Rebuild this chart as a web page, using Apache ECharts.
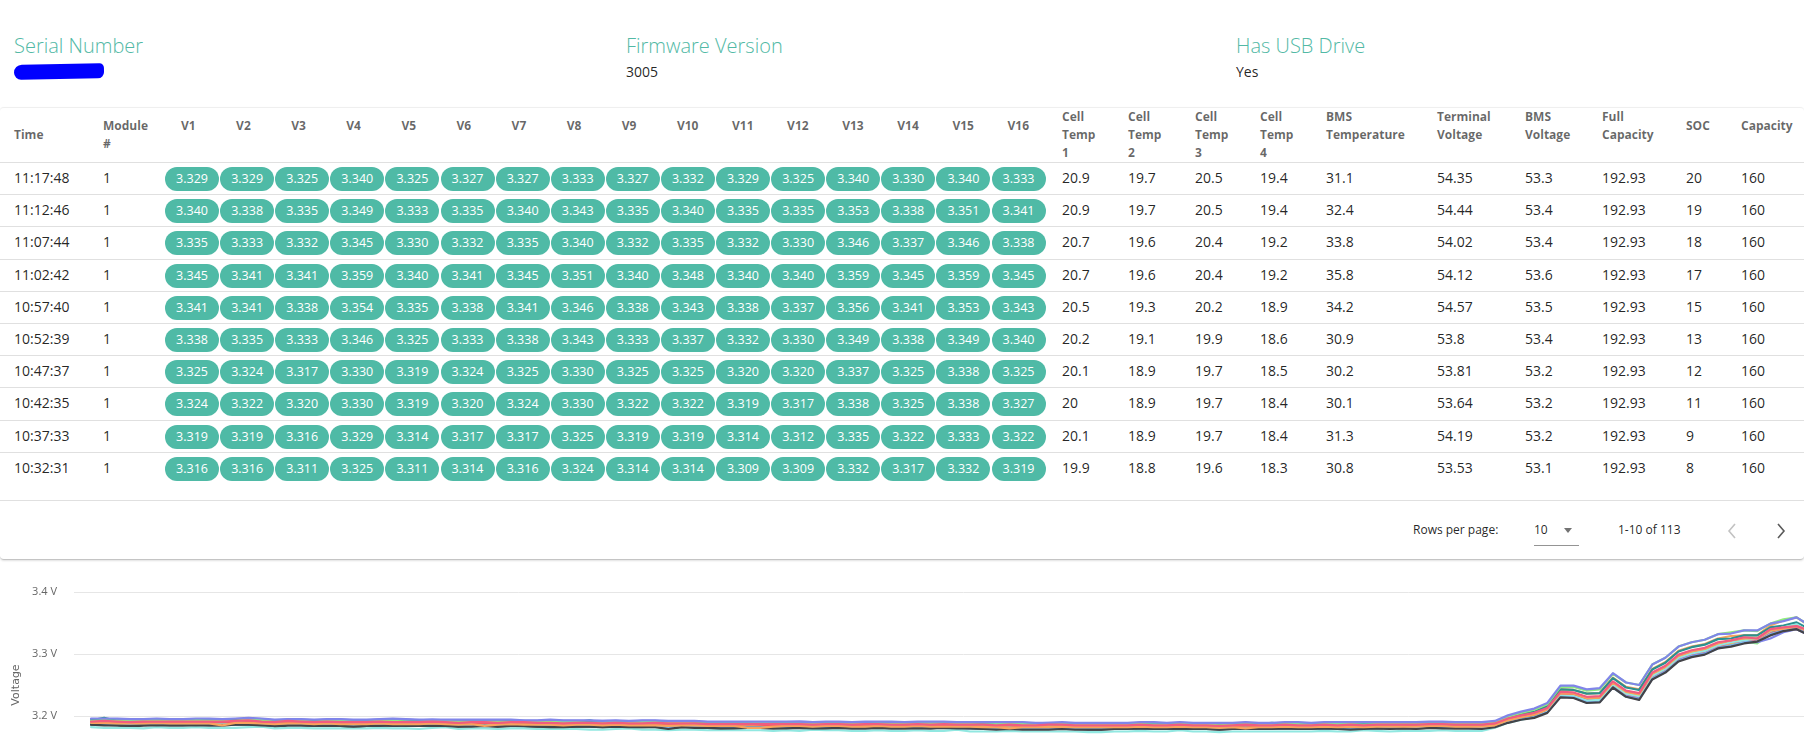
<!DOCTYPE html>
<html>
<head>
<meta charset="utf-8">
<title>Battery module</title>
<script src="https://cdn.jsdelivr.net/npm/echarts@6/dist/echarts.min.js"></script>
<style>
    html, body { margin: 0; padding: 0; width: 1804px; height: 755px; overflow: hidden; background: #fff; font-family: 'Open Sans', sans-serif; }
    .info-label { position: absolute; top: 33px; line-height: 26px; font-size: 20px; font-weight: 300; color: #52b9a5; }
    .info-value { position: absolute; top: 62px; line-height: 20px; font-size: 14px; color: rgba(0, 0, 0, .87); }
    #scribble { position: absolute; left: 14px; top: 64px; width: 90px; height: 15px; background: #0000ff; border-radius: 9px 5px 7px 8px; transform: rotate(-1deg); }
    #card { position: absolute; left: 0; top: 107px; width: 1804px; height: 451px; border-top: 1px solid #efefef; border-bottom: 1px solid #c4c4c4; border-radius: 4px; box-shadow: 0 1px 2px rgba(0, 0, 0, .12); }
    .th { position: absolute; top: 108px; height: 54px; display: flex; align-items: center; font-size: 12px; font-weight: 700; line-height: 18px; color: rgba(0, 0, 0, .6); white-space: pre; }
    .td { position: absolute; line-height: 32px; font-size: 14px; color: rgba(0, 0, 0, .87); white-space: nowrap; }
    .pill { position: absolute; width: 54px; height: 24px; line-height: 24px; border-radius: 12px; background: #4fbaa6; color: #fff; font-size: 12.5px; text-align: center; }
    .hline { position: absolute; left: 0; width: 1804px; height: 1px; background: #e0e0e0; }
    .foot { position: absolute; top: 521px; line-height: 18px; font-size: 12px; color: rgba(0, 0, 0, .87); }
    #chart { position: absolute; left: 0; top: 560px; width: 1900px; height: 280px; }
</style>
</head>
<body>

<div class="info-label" style="left:14px;">Serial Number</div>
<div id="scribble"></div>
<div class="info-label" style="left:626px;">Firmware Version</div>
<div class="info-value" style="left:626px;">3005</div>
<div class="info-label" style="left:1236px;">Has USB Drive</div>
<div class="info-value" style="left:1236px;">Yes</div>

<div id="card"></div>
<div id="table"></div>

<div class="foot" style="left:1413px;">Rows per page:</div>
<div class="foot" style="left:1534px;">10</div>
<div style="position:absolute;left:1564px;top:528px;width:0;height:0;border-left:4.5px solid transparent;border-right:4.5px solid transparent;border-top:5px solid #737373;"></div>
<div style="position:absolute;left:1534px;top:545px;width:45px;height:1px;background:#949494;"></div>
<div class="foot" style="left:1618px;">1-10 of 113</div>
<svg style="position:absolute;left:1727px;top:523px;" width="10" height="16"><polyline points="8,1 2,8 8,15" fill="none" stroke="#c2c2c2" stroke-width="1.6"/></svg>
<svg style="position:absolute;left:1776px;top:523px;" width="10" height="16"><polyline points="2,1 8,8 2,15" fill="none" stroke="#5a5a5a" stroke-width="1.6"/></svg>

<div id="chart"></div>

<script>
// cell voltages in mV, oldest reading first (last 10 = the rows in the table)
var v1 = [3188,3187,3187,3186,3188,3188,3186,3187,3188,3187,
    3187,3188,3188,3187,3185,3187,3187,3186,3186,3186,
    3185,3186,3187,3186,3186,3185,3187,3186,3185,3186,
    3186,3185,3186,3185,3185,3184,3184,3185,3185,3184,
    3185,3184,3183,3185,3183,3184,3184,3182,3182,3183,
    3183,3183,3182,3183,3182,3182,3183,3183,3181,3182,
    3183,3182,3182,3183,3182,3182,3182,3182,3181,3181,
    3182,3181,3181,3181,3182,3181,3181,3180,3181,3181,
    3182,3181,3181,3182,3181,3181,3180,3181,3182,3181,
    3181,3182,3181,3181,3182,3181,3182,3181,3182,3182,
    3182,3182,3183,3183,3182,3182,3182,
    3184,3192,3197,3201,3209,3236,3235,3228,3229,3253,3238,3234,3267,3278,3296,3303,3307,
    3316,3319,3324,3325,3338,3341,3345,3335,3340,3329];
var v2 = [3186,3186,3185,3182,3185,3186,3185,3185,3186,3185,
    3185,3186,3186,3185,3181,3185,3185,3184,3185,3184,
    3181,3184,3185,3184,3184,3184,3185,3184,3183,3184,
    3184,3183,3184,3183,3183,3183,3182,3183,3183,3182,
    3183,3182,3182,3183,3179,3182,3182,3181,3179,3181,
    3181,3181,3180,3181,3181,3180,3181,3181,3180,3180,
    3181,3180,3180,3181,3180,3182,3181,3180,3179,3179,
    3180,3179,3179,3179,3180,3179,3178,3178,3179,3179,
    3180,3179,3179,3180,3179,3179,3178,3179,3180,3179,
    3179,3180,3179,3179,3180,3179,3180,3179,3180,3180,
    3180,3180,3181,3181,3180,3180,3180,
    3182,3190,3195,3199,3207,3234,3233,3227,3228,3252,3237,3233,3266,3277,3295,3302,3306,
    3316,3319,3322,3324,3335,3341,3341,3333,3338,3329];
var v3 = [3192,3193,3191,3191,3191,3192,3192,3194,3192,3191,
    3191,3192,3192,3191,3190,3192,3191,3191,3191,3193,
    3190,3190,3191,3192,3190,3190,3191,3190,3190,3190,
    3190,3190,3190,3192,3189,3190,3188,3189,3189,3189,
    3189,3188,3189,3189,3188,3188,3188,3187,3187,3187,
    3187,3188,3186,3187,3187,3187,3187,3188,3186,3186,
    3190,3186,3187,3187,3186,3187,3186,3186,3186,3185,
    3186,3185,3185,3186,3186,3188,3185,3185,3185,3185,
    3186,3185,3185,3186,3186,3185,3184,3185,3186,3186,
    3185,3186,3189,3185,3186,3185,3186,3186,3186,3186,
    3186,3186,3187,3187,3186,3186,3186,
    3188,3196,3200,3203,3210,3233,3232,3224,3225,3248,3233,3229,3262,3273,3291,3298,3302,
    3311,3316,3320,3317,3333,3338,3341,3332,3335,3325];
var v4 = [3190,3189,3189,3189,3189,3190,3189,3190,3190,3189,
    3189,3190,3190,3189,3188,3189,3189,3188,3189,3187,
    3184,3185,3189,3189,3188,3188,3189,3188,3188,3188,
    3188,3188,3188,3187,3187,3187,3186,3187,3187,3187,
    3187,3186,3186,3187,3186,3182,3186,3185,3185,3185,
    3185,3185,3184,3185,3185,3184,3185,3185,3184,3184,
    3185,3184,3180,3185,3184,3185,3184,3184,3183,3183,
    3184,3183,3183,3183,3184,3183,3183,3182,3179,3179,
    3183,3183,3183,3184,3183,3183,3182,3183,3184,3183,
    3183,3184,3183,3179,3184,3183,3184,3183,3184,3184,
    3184,3184,3185,3185,3180,3180,3183,
    3186,3195,3201,3206,3215,3243,3242,3236,3237,3262,3247,3243,3276,3287,3305,3312,3316,
    3325,3329,3330,3330,3346,3354,3359,3345,3349,3340];
var v5 = [3195,3195,3195,3194,3194,3195,3194,3195,3195,3194,
    3194,3195,3196,3195,3193,3194,3194,3193,3194,3194,
    3193,3193,3194,3195,3194,3193,3194,3193,3193,3193,
    3193,3193,3193,3192,3192,3193,3192,3192,3192,3192,
    3192,3191,3192,3192,3191,3191,3191,3190,3190,3190,
    3190,3190,3190,3190,3191,3190,3190,3190,3189,3190,
    3190,3190,3189,3190,3190,3190,3189,3189,3189,3189,
    3189,3189,3188,3189,3189,3188,3188,3188,3188,3188,
    3189,3189,3188,3189,3188,3188,3188,3188,3189,3188,
    3188,3189,3189,3188,3189,3188,3189,3189,3189,3189,
    3189,3189,3190,3190,3189,3189,3189,
    3191,3198,3202,3205,3212,3235,3233,3225,3225,3248,3233,3229,3262,3273,3291,3298,3302,
    3311,3314,3319,3319,3325,3335,3340,3330,3333,3325];
var v6 = [3191,3191,3190,3190,3190,3191,3191,3190,3191,3190,
    3190,3191,3192,3191,3189,3191,3190,3189,3190,3190,
    3189,3189,3190,3190,3189,3190,3190,3189,3189,3189,
    3189,3189,3189,3188,3188,3188,3188,3188,3188,3187,
    3188,3188,3187,3188,3187,3187,3187,3186,3186,3186,
    3186,3186,3186,3186,3186,3185,3186,3186,3185,3186,
    3186,3185,3185,3186,3186,3186,3185,3185,3185,3184,
    3185,3185,3184,3184,3185,3184,3184,3184,3184,3184,
    3185,3184,3184,3185,3185,3184,3184,3184,3185,3184,
    3184,3185,3185,3184,3185,3184,3185,3185,3185,3185,
    3185,3185,3186,3186,3185,3185,3185,
    3187,3195,3199,3203,3210,3235,3234,3227,3227,3251,3236,3232,3265,3276,3294,3301,3305,
    3314,3317,3320,3324,3333,3338,3341,3332,3335,3327];
var v7 = [3189,3190,3189,3189,3189,3190,3190,3189,3189,3189,
    3189,3189,3190,3189,3188,3189,3189,3188,3188,3188,
    3188,3188,3189,3188,3188,3188,3188,3188,3187,3188,
    3188,3187,3187,3188,3187,3187,3187,3187,3186,3186,
    3186,3186,3186,3186,3185,3186,3185,3185,3185,3185,
    3185,3185,3185,3185,3184,3184,3185,3184,3184,3184,
    3184,3184,3184,3185,3184,3184,3184,3184,3183,3183,
    3184,3183,3183,3183,3183,3183,3183,3183,3183,3183,
    3183,3183,3183,3183,3183,3183,3183,3183,3183,3183,
    3183,3183,3183,3183,3184,3183,3184,3183,3183,3184,
    3184,3184,3184,3185,3184,3184,3184,
    3186,3194,3199,3203,3211,3236,3235,3228,3229,3253,3238,3234,3267,3278,3296,3303,3307,
    3316,3317,3324,3325,3338,3341,3345,3335,3340,3327];
var v8 = [3193,3197,3192,3192,3192,3193,3193,3192,3193,3192,
    3192,3193,3193,3192,3191,3193,3192,3192,3192,3191,
    3191,3191,3192,3192,3191,3192,3192,3191,3191,3191,
    3191,3191,3192,3190,3190,3190,3190,3190,3193,3189,
    3190,3189,3189,3190,3189,3189,3189,3188,3188,3188,
    3188,3188,3188,3188,3188,3187,3188,3189,3187,3187,
    3188,3187,3187,3188,3187,3188,3188,3190,3186,3187,
    3187,3186,3186,3187,3187,3186,3186,3186,3186,3186,
    3187,3186,3186,3187,3186,3186,3186,3186,3187,3187,
    3189,3187,3187,3186,3187,3186,3187,3187,3187,3187,
    3187,3187,3188,3188,3187,3187,3187,
    3189,3197,3203,3207,3216,3243,3242,3236,3237,3261,3246,3242,3275,3286,3304,3311,3315,
    3324,3325,3330,3330,3343,3346,3351,3340,3343,3333];
var v9 = [3191,3190,3190,3189,3190,3191,3190,3191,3191,3190,
    3190,3191,3191,3190,3189,3191,3190,3190,3190,3189,
    3188,3189,3190,3191,3189,3189,3190,3189,3189,3189,
    3189,3189,3189,3188,3189,3188,3187,3188,3188,3188,
    3188,3187,3188,3188,3187,3187,3187,3186,3186,3186,
    3187,3186,3185,3186,3186,3186,3186,3186,3185,3185,
    3186,3186,3185,3186,3185,3186,3185,3185,3184,3185,
    3185,3184,3185,3184,3185,3184,3184,3184,3184,3184,
    3185,3184,3184,3185,3184,3185,3184,3184,3185,3184,
    3184,3185,3184,3185,3185,3184,3185,3184,3185,3185,
    3185,3186,3186,3186,3185,3185,3185,
    3187,3195,3199,3202,3210,3235,3234,3226,3227,3251,3236,3232,3265,3276,3294,3301,3305,
    3314,3319,3322,3325,3333,3338,3340,3332,3335,3327];
var v10 = [3182,3181,3181,3181,3180,3182,3181,3181,3182,3181,
    3181,3181,3182,3183,3180,3181,3181,3180,3180,3180,
    3180,3180,3181,3180,3180,3179,3181,3182,3179,3180,
    3180,3179,3180,3180,3179,3179,3179,3179,3178,3178,
    3179,3180,3178,3178,3177,3178,3178,3177,3177,3177,
    3177,3177,3176,3177,3176,3178,3177,3177,3176,3176,
    3177,3176,3176,3177,3176,3176,3178,3175,3175,3175,
    3176,3175,3175,3175,3175,3175,3174,3174,3175,3175,
    3176,3175,3175,3177,3175,3175,3174,3175,3175,3175,
    3175,3175,3175,3175,3176,3175,3175,3177,3176,3175,
    3176,3176,3176,3177,3176,3176,3176,
    3181,3189,3194,3198,3207,3233,3232,3225,3226,3251,3236,3232,3265,3276,3294,3301,3305,
    3314,3319,3322,3325,3337,3343,3348,3335,3340,3332];
var v11 = [3187,3187,3186,3186,3186,3186,3186,3187,3187,3186,
    3186,3187,3187,3186,3185,3186,3186,3185,3186,3185,
    3185,3185,3186,3186,3185,3185,3185,3185,3184,3185,
    3185,3184,3185,3185,3184,3183,3183,3184,3184,3183,
    3184,3183,3183,3183,3182,3183,3183,3182,3182,3182,
    3182,3182,3181,3182,3182,3181,3181,3182,3181,3181,
    3182,3181,3181,3181,3181,3182,3181,3180,3180,3180,
    3181,3180,3180,3180,3181,3180,3180,3179,3180,3180,
    3181,3180,3180,3181,3180,3179,3179,3180,3181,3180,
    3180,3181,3180,3180,3180,3180,3181,3180,3181,3180,
    3181,3181,3181,3182,3181,3180,3181,
    3183,3190,3195,3198,3206,3231,3230,3222,3223,3246,3231,3227,3260,3271,3289,3296,3300,
    3309,3314,3319,3320,3332,3338,3340,3332,3335,3329];
var v12 = [3186,3185,3185,3184,3185,3185,3185,3185,3185,3185,
    3185,3186,3186,3185,3184,3185,3185,3184,3184,3184,
    3183,3184,3184,3185,3184,3184,3184,3184,3183,3183,
    3184,3183,3184,3184,3183,3182,3182,3183,3183,3182,
    3183,3182,3182,3182,3179,3182,3181,3181,3180,3180,
    3181,3181,3180,3180,3181,3180,3180,3181,3180,3180,
    3181,3180,3180,3180,3180,3181,3180,3180,3179,3178,
    3179,3178,3178,3178,3179,3178,3178,3178,3179,3179,
    3180,3179,3179,3179,3179,3179,3178,3179,3179,3179,
    3179,3180,3179,3179,3180,3179,3178,3179,3180,3179,
    3180,3179,3181,3180,3180,3180,3179,
    3182,3189,3194,3197,3205,3230,3229,3221,3222,3246,3231,3226,3259,3270,3288,3295,3299,
    3309,3312,3317,3320,3330,3337,3340,3330,3335,3325];
var v13 = [3192,3193,3192,3192,3193,3193,3192,3192,3193,3192,
    3192,3192,3194,3193,3191,3192,3192,3191,3192,3192,
    3191,3191,3192,3192,3191,3191,3192,3192,3191,3191,
    3191,3191,3191,3190,3190,3190,3190,3190,3189,3190,
    3190,3189,3190,3190,3189,3189,3188,3188,3188,3188,
    3188,3189,3188,3188,3188,3187,3188,3188,3188,3187,
    3188,3187,3187,3188,3188,3188,3187,3187,3186,3187,
    3187,3187,3186,3186,3187,3186,3186,3186,3186,3187,
    3187,3186,3186,3187,3187,3186,3185,3186,3187,3186,
    3186,3187,3187,3186,3187,3187,3187,3186,3187,3187,
    3187,3188,3188,3188,3187,3187,3187,
    3190,3199,3205,3210,3219,3247,3247,3241,3243,3268,3254,3250,3283,3294,3312,3319,3323,
    3332,3335,3338,3337,3349,3356,3359,3346,3353,3340];
var v14 = [3189,3189,3188,3188,3188,3189,3188,3188,3188,3188,
    3185,3189,3189,3188,3187,3188,3188,3187,3188,3187,
    3187,3187,3188,3187,3187,3187,3188,3187,3186,3187,
    3184,3186,3187,3186,3186,3186,3185,3186,3186,3185,
    3186,3185,3185,3185,3184,3185,3185,3184,3184,3184,
    3181,3181,3183,3184,3184,3183,3184,3184,3183,3183,
    3184,3183,3183,3184,3183,3183,3183,3183,3182,3182,
    3180,3182,3182,3182,3183,3182,3182,3182,3182,3182,
    3183,3182,3182,3183,3182,3182,3181,3182,3180,3182,
    3182,3183,3182,3182,3183,3182,3183,3182,3183,3183,
    3183,3183,3184,3184,3183,3183,3183,
    3185,3193,3198,3202,3211,3237,3236,3229,3230,3254,3239,3235,3268,3279,3297,3304,3308,
    3317,3322,3325,3325,3338,3341,3345,3337,3338,3330];
var v15 = [3196,3196,3196,3195,3195,3196,3195,3195,3196,3196,
    3195,3196,3197,3196,3194,3195,3195,3194,3195,3195,
    3194,3194,3195,3196,3195,3194,3194,3194,3194,3194,
    3194,3194,3194,3193,3193,3194,3193,3193,3193,3192,
    3193,3192,3193,3193,3192,3192,3192,3191,3191,3191,
    3191,3191,3191,3191,3191,3190,3191,3191,3190,3191,
    3191,3191,3190,3191,3191,3191,3190,3190,3190,3190,
    3190,3190,3189,3189,3190,3189,3189,3189,3189,3189,
    3190,3190,3189,3190,3189,3189,3189,3189,3190,3189,
    3189,3190,3190,3189,3190,3190,3190,3190,3190,3190,
    3190,3190,3191,3191,3190,3190,3190,
    3192,3201,3207,3212,3221,3249,3249,3243,3245,3269,3254,3250,3283,3294,3312,3319,3323,
    3332,3333,3338,3338,3349,3353,3359,3346,3351,3340];
var v16 = [3191,3192,3191,3190,3191,3191,3191,3191,3191,3191,
    3191,3192,3193,3191,3190,3192,3191,3190,3191,3190,
    3190,3190,3191,3190,3190,3190,3191,3190,3189,3190,
    3190,3189,3190,3190,3189,3189,3188,3189,3189,3188,
    3189,3188,3188,3189,3188,3188,3188,3187,3187,3187,
    3187,3187,3187,3187,3187,3186,3187,3187,3186,3187,
    3187,3186,3186,3187,3186,3187,3186,3186,3186,3185,
    3186,3185,3185,3186,3186,3185,3185,3185,3185,3185,
    3186,3185,3185,3186,3185,3185,3184,3185,3186,3185,
    3185,3186,3185,3185,3186,3185,3186,3185,3186,3186,
    3186,3186,3187,3187,3186,3186,3186,
    3188,3196,3201,3205,3213,3239,3238,3231,3232,3256,3241,3237,3270,3281,3299,3306,3310,
    3319,3322,3327,3325,3340,3343,3345,3338,3341,3333];
var cells = [v1, v2, v3, v4, v5, v6, v7, v8, v9, v10, v11, v12, v13, v14, v15, v16];

// table rows, newest first
var times = ['11:17:48', '11:12:46', '11:07:44', '11:02:42', '10:57:40', '10:52:39', '10:47:37', '10:42:35', '10:37:33', '10:32:31'];
var moduleNo = [1, 1, 1, 1, 1, 1, 1, 1, 1, 1];
var cellTemp1 = [20.9, 20.9, 20.7, 20.7, 20.5, 20.2, 20.1, 20, 20.1, 19.9];
var cellTemp2 = [19.7, 19.7, 19.6, 19.6, 19.3, 19.1, 18.9, 18.9, 18.9, 18.8];
var cellTemp3 = [20.5, 20.5, 20.4, 20.4, 20.2, 19.9, 19.7, 19.7, 19.7, 19.6];
var cellTemp4 = [19.4, 19.4, 19.2, 19.2, 18.9, 18.6, 18.5, 18.4, 18.4, 18.3];
var bmsTemp = [31.1, 32.4, 33.8, 35.8, 34.2, 30.9, 30.2, 30.1, 31.3, 30.8];
var terminalV = [54.35, 54.44, 54.02, 54.12, 54.57, 53.8, 53.81, 53.64, 54.19, 53.53];
var bmsV = [53.3, 53.4, 53.4, 53.6, 53.5, 53.4, 53.2, 53.2, 53.2, 53.1];
var fullCap = [192.93, 192.93, 192.93, 192.93, 192.93, 192.93, 192.93, 192.93, 192.93, 192.93];
var soc = [20, 19, 18, 17, 15, 13, 12, 11, 9, 8];
var capacity = [160, 160, 160, 160, 160, 160, 160, 160, 160, 160];

var yTicks = [3.1, 3.2, 3.3, 3.4];
var palette = ['#7cb5ec', '#434348', '#90ed7d', '#f7a35c', '#8085e9', '#f15c80', '#e4d354', '#2b908f', '#f45b5b', '#91e8e1'];


///// TABLE

// sortable headers keep an (invisible) sort arrow, which wraps onto its own line
var headers = ['Time', 'Module\n#'];
var colX = [14, 103];
for (var k = 0; k < 16; k++) {
    headers.push('V' + (k + 1) + '\n ');
    colX.push(181 + k * 55.1);
}
var tail = ['Cell\nTemp\n1', 'Cell\nTemp\n2', 'Cell\nTemp\n3', 'Cell\nTemp\n4', 'BMS\nTemperature\n ', 'Terminal\nVoltage\n ', 'BMS\nVoltage\n ', 'Full\nCapacity\n ', 'SOC\n ', 'Capacity\n '];
var tailX = [1062, 1128, 1195, 1260, 1326, 1437, 1525, 1602, 1686, 1741];
var tailCols = [cellTemp1, cellTemp2, cellTemp3, cellTemp4, bmsTemp, terminalV, bmsV, fullCap, soc, capacity];
headers = headers.concat(tail);
colX = colX.concat(tailX);

var rowTop = 162, rowH = 32.2;
var html = '';

for (var c = 0; c < headers.length; c++) {
    html += '<div class="th" style="left:' + colX[c] + 'px;">' + headers[c] + '</div>';
}
html += '<div class="hline" style="top:162px;"></div>';

for (var r = 0; r < times.length; r++) {
    var rowY = rowTop + r * rowH;
    html += '<div class="td" style="left:14px;top:' + rowY + 'px;">' + times[r] + '</div>';
    html += '<div class="td" style="left:103px;top:' + rowY + 'px;">' + moduleNo[r] + '</div>';

    for (var k = 0; k < 16; k++) {
        var mv = cells[k][cells[k].length - 1 - r];
        html += '<div class="pill" style="left:' + (colX[k + 2] - 16) + 'px;top:' + (rowY + 5) + 'px;">' + (mv / 1000).toFixed(3) + '</div>';
    }

    for (var t = 0; t < tailCols.length; t++) {
        html += '<div class="td" style="left:' + tailX[t] + 'px;top:' + rowY + 'px;">' + tailCols[t][r] + '</div>';
    }

    if (r < times.length - 1) {
        html += '<div class="hline" style="top:' + (rowY + rowH) + 'px;"></div>';
    }
}
html += '<div class="hline" style="top:500px;"></div>';

document.getElementById('table').innerHTML = html;


///// CHART

var series = [];
for (var k = 0; k < cells.length; k++) {
    series.push({
        name: 'V' + (k + 1),
        type: 'line',
        showSymbol: false,
        silent: true,
        data: cells[k].map(function (mv, i) { return [i, mv / 1000]; }),
        lineStyle: { width: 2.2, color: palette[k % palette.length], cap: 'round', join: 'round' },
        itemStyle: { color: palette[k % palette.length] }
    });
}

var myChart = echarts.init(document.getElementById('chart'));

myChart.setOption({
    animation: false,
    grid: { left: 74, top: 32, width: 1779, height: 186 },
    xAxis: {
        type: 'value',
        min: -1.3,
        max: 134.3,
        axisLine: { show: true, lineStyle: { color: '#ccd6eb' } },
        axisTick: { show: false },
        axisLabel: { show: false },
        splitLine: { show: false }
    },
    yAxis: {
        type: 'value',
        min: yTicks[0],
        max: yTicks[yTicks.length - 1],
        interval: 0.1,
        name: 'Voltage',
        nameLocation: 'middle',
        nameGap: 45,
        nameTextStyle: { color: '#666666', fontSize: 11, fontFamily: 'DejaVu Sans' },
        axisLine: { show: false },
        axisTick: { show: false },
        axisLabel: {
            color: '#666666',
            fontSize: 11,
            fontFamily: 'Open Sans',
            margin: 17,
            formatter: function (v) { return v.toFixed(1) + ' V'; }
        },
        splitLine: { lineStyle: { color: '#e6e6e6' } }
    },
    series: series
});
</script>
</body>
</html>
